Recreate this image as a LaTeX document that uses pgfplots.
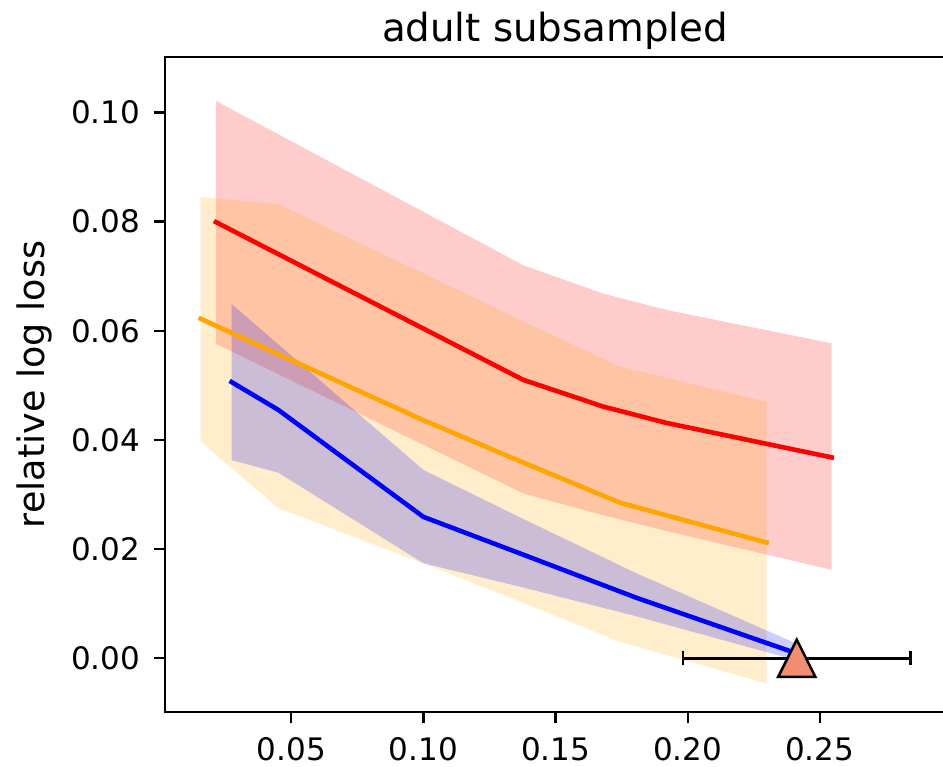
\documentclass[border=0pt]{standalone}
\usepackage{fontspec}
\setmainfont{DejaVu Sans}
\usepackage{pgfplots}
\usepackage{pgfplotstable}
\pgfplotsset{compat=1.18}
\usepgfplotslibrary{fillbetween}
\usetikzlibrary{calc}

\definecolor{mplorange}{RGB}{255,165,0}
\definecolor{trifill}{RGB}{240,141,115}

% matplotlib style triangle: as wide as it is tall, centred on the point
\pgfdeclareplotmark{mtri}{%
  \pgfpathmoveto{\pgfqpoint{0pt}{\pgfplotmarksize}}%
  \pgfpathlineto{\pgfqpoint{-\pgfplotmarksize}{-\pgfplotmarksize}}%
  \pgfpathlineto{\pgfqpoint{\pgfplotmarksize}{-\pgfplotmarksize}}%
  \pgfpathclose
  \pgfusepathqfillstroke}

\pgfplotstableread{
x      mean    upper   lower
0.0215 0.0799  0.1021  0.0576
0.1378 0.0510  0.0720  0.0302
0.1681 0.0461  0.0668  0.0262
0.1921 0.0431  0.0638  0.0233
0.2545 0.0368  0.0577  0.0162
}\redtab

\pgfplotstableread{
x      mean    upper   lower
0.0157 0.0622  0.0845  0.0397
0.0451 0.0557  0.0832  0.0275
0.1000 0.0436  0.0705  0.0174
0.1366 0.0361  0.0620  0.0104
0.1744 0.0285  0.0534  0.0030
0.2299 0.0212  0.0470 -0.0046
}\orangetab

\pgfplotstableread{
x      mean    upper   lower
0.0274 0.0506  0.0649  0.0363
0.0451 0.0455  0.0575  0.0340
0.1000 0.0259  0.0345  0.0174
0.1366 0.0192  0.0258  0.0131
0.1805 0.0111  0.0156  0.0077
0.2406 0.0010  0.0028 -0.0003
}\bluetab

\begin{document}
\begin{tikzpicture}
\begin{axis}[
  scale only axis, width=280.8bp, height=236bp,
  xmin=0.0022, xmax=0.2974, ymin=-0.0099, ymax=0.1102,
  axis line style={line width=0.8bp},
  xtick={0.05,0.10,0.15,0.20,0.25},
  ytick={0,0.02,0.04,0.06,0.08,0.10},
  xtick pos=bottom, ytick pos=left,
  tick align=outside, major tick length=4bp,
  tick style={line width=0.8bp, black},
  scaled ticks=false,
  /pgf/number format/fixed,
  /pgf/number format/fixed zerofill,
  /pgf/number format/precision=2,
  /pgf/number format/assume math mode=true,
  tick label style={font=\fontsize{11.2}{13}\selectfont},
  every x tick label/.append style={anchor=north, inner sep=0pt, yshift=-4.9bp},
  every y tick label/.append style={anchor=east, inner sep=0pt, xshift=-4.7bp},
  every axis title/.style={at={(axis description cs:0.5,1.0229)}, anchor=base, inner sep=0pt,
               font=\fontsize{14}{16}\selectfont},
  title={adult subsampled},
  every axis y label/.style={at={(axis description cs:-0.15385,0.5)}, rotate=90,
               anchor=base, inner sep=0pt, font=\fontsize{13.2}{15}\selectfont},
  ylabel={relative log loss},
]
% bands
\addplot[draw=none, name path=ru] table[x=x, y=upper] {\redtab};
\addplot[draw=none, name path=rl] table[x=x, y=lower] {\redtab};
\addplot[red, fill opacity=0.2, draw=none] fill between[of=ru and rl];
\addplot[draw=none, name path=ou] table[x=x, y=upper] {\orangetab};
\addplot[draw=none, name path=ol] table[x=x, y=lower] {\orangetab};
\addplot[mplorange, fill opacity=0.2, draw=none] fill between[of=ou and ol];
\addplot[draw=none, name path=bu] table[x=x, y=upper] {\bluetab};
\addplot[draw=none, name path=bl] table[x=x, y=lower] {\bluetab};
\addplot[blue, fill opacity=0.2, draw=none] fill between[of=bu and bl];
% means
\addplot[red, line width=1.65bp, line cap=rect, no marks] table[x=x, y=mean] {\redtab};
\addplot[mplorange, line width=1.65bp, line cap=rect, no marks] table[x=x, y=mean] {\orangetab};
\addplot[blue, line width=1.65bp, line cap=rect, no marks] table[x=x, y=mean] {\bluetab};
% reference point with horizontal error bar
\addplot[black, line width=0.96bp, only marks, mark=mtri, mark size=6.7bp,
  mark options={fill=trifill, draw=black, line width=0.9bp},
  error bars/.cd, x dir=both, x explicit,
  error mark options={rotate=90, mark size=2.6bp, line width=0.96bp, black},
  error bar style={line width=0.96bp, black}]
  coordinates {(0.2413,0) +- (0.0430,0)};
\end{axis}
\pgfresetboundingbox
\path[use as bounding box] ($(current axis.south west)+(-59.4bp,-19.33bp)$)
  rectangle ($(current axis.south west)+(280.08bp,256.43bp)$);
\end{tikzpicture}
\end{document}
